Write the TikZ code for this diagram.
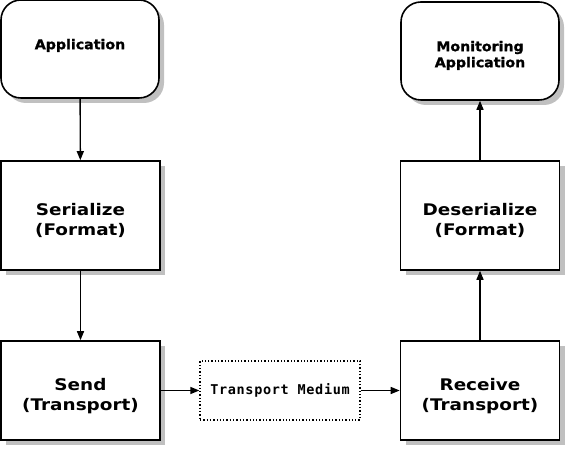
\documentclass[tikz,border=0pt]{standalone}
\usepackage{fontspec}
\setmainfont{DejaVu Sans}
\newfontfamily\boxfont[FakeStretch=1.15]{DejaVu Sans Bold}
\newfontfamily\appfont[FakeStretch=1.05,FakeBold=1.2]{DejaVu Sans Bold}
\newfontfamily\wirefont[LetterSpace=5]{DejaVu Sans Mono Bold}
\usepackage{tikz}
\usetikzlibrary{arrows.meta,positioning,shadows}
\definecolor{Ink}{HTML}{000000}
\definecolor{ShadowGray}{HTML}{C0C0C0}
% lines of a box label, moved down by #1 without changing the box
\newcommand{\boxlines}[2][0pt]{\raisebox{#1}[\height][\depth]{\begin{tabular}{@{}c@{}}#2\end{tabular}}}
\tikzset{
  boxShadow/.style={drop shadow={shadow xshift=5pt,shadow yshift=-5pt,fill=ShadowGray,opacity=1}},
  appBox/.style={rectangle,rounded corners=20pt,draw=Ink,line width=1.6pt,fill=white,boxShadow,
    minimum width=158pt,minimum height=98pt,
    font=\appfont\fontsize{13.5}{16}\selectfont},
  stepBox/.style={rectangle,draw=Ink,line width=1.6pt,fill=white,boxShadow,
    minimum width=159pt,
    font=\boxfont\fontsize{16}{20}\selectfont},
  mediumBox/.style={rectangle,draw=Ink,line width=1.3pt,dotted,fill=white,
    minimum width=160pt,minimum height=59pt,
    font=\wirefont\fontsize{13.5}{15}\selectfont},
  flow/.style={-{Triangle[length=9pt,width=7pt]},draw=Ink,line width=1.4pt}
}
\begin{document}
\begin{tikzpicture}[x=1pt,y=1pt]
  \useasboundingbox (0,0) rectangle (570,452);
  \node[appBox] (app) at (80,403) {\boxlines[3pt]{Application}};
  \node[stepBox,minimum height=109pt] (ser) at (80.5,236.5) {\boxlines[-6pt]{Serialize\\(Format)}};
  \node[stepBox,minimum height=99pt] (send) at (80.5,61.5) {\boxlines[-6pt]{Send\\(Transport)}};
  \node[mediumBox] (medium) at (280,61.5) {Transport Medium};
  \node[stepBox,minimum height=99pt] (recv) at (480,61.5) {\boxlines[-6pt]{Receive\\(Transport)}};
  \node[stepBox,minimum height=109pt] (deser) at (480,236.5) {\boxlines[-6pt]{Deserialize\\(Format)}};
  \node[appBox] (mon) at (480,401) {\boxlines[-5pt]{Monitoring\\Application}};
  \draw[flow] (app) -- (ser);
  \draw[flow] (ser) -- (send);
  \draw[flow] (send) -- (medium);
  \draw[flow] (medium) -- (recv);
  \draw[flow] (recv) -- (deser);
  \draw[flow] (deser) -- (mon);
\end{tikzpicture}
\end{document}
